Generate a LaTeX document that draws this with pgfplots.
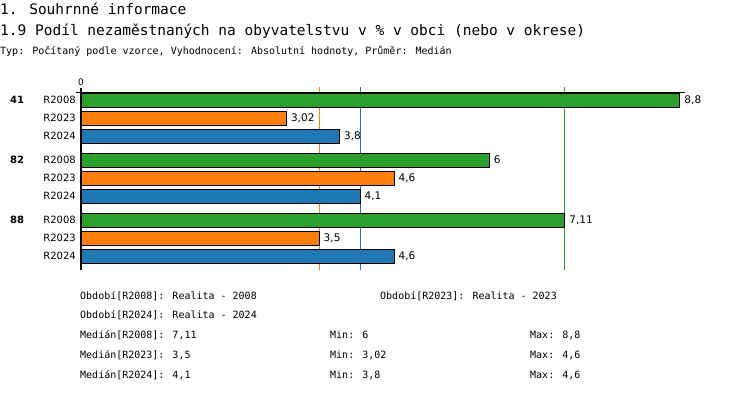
\documentclass[border=0pt]{standalone}
\usepackage{pgfplots}
\pgfplotsset{compat=1.18}
\usepackage{fontspec}
\setmainfont{DejaVu Sans}
\newfontfamily\mono{DejaVu Sans Mono}
\definecolor{cgreen}{HTML}{2CA02C}
\definecolor{corange}{HTML}{FF7F0E}
\definecolor{cblue}{HTML}{1F77B4}
\begin{document}
\begin{tikzpicture}[x=1pt,y=1pt]
\path[use as bounding box] (0,0) rectangle (750,-392);
\node[anchor=base west,inner sep=0pt,font=\mono\fontsize{14.5}{16}\selectfont] at (0,-14) {1. Souhrnné informace};
\node[anchor=base west,inner sep=0pt,font=\mono\fontsize{14.5}{16}\selectfont] at (0,-35) {1.9 Podíl nezaměstnaných na obyvatelstvu v \% v obci (nebo v okrese)};
\node[anchor=base west,inner sep=0pt,font=\mono\fontsize{10}{12}\selectfont] at (0,-54) {Typ: Počítaný podle vzorce, Vyhodnocení: Absolutní hodnoty, Průměr: Medián};
\begin{axis}[at={(81pt,-270pt)}, anchor=south west, scale only axis,
  width=612.6pt, height=183pt, xmin=0, xmax=9, ymin=-270, ymax=-87,
  axis line style={draw=none}, major tick length=0pt, clip=false,
  xtick=\empty,
  ytick={-100,-118,-136,-160,-178,-196,-220,-238,-256},
  yticklabels={R2008,R2023,R2024,R2008,R2023,R2024,R2008,R2023,R2024},
  yticklabel style={font=\fontsize{10}{12}\selectfont, inner sep=0pt, xshift=-5pt},
  /pgf/number format/assume math mode=true,
  /pgf/number format/use comma,
  point meta=x,
  every node near coord/.append style={font=\fontsize{10.5}{12}\selectfont, anchor=west, inner sep=0pt, xshift=4pt},
]
\addplot[corange, line width=1pt] coordinates {(3.5,-87) (3.5,-270)};
\addplot[cblue, line width=1pt] coordinates {(4.1,-87) (4.1,-270)};
\addplot[cgreen, line width=1pt] coordinates {(7.11,-87) (7.11,-270)};
\addplot[black, line width=0.8pt] coordinates {(-0.073,-92.5) (8.88,-92.5)};
\addplot[black, line width=2pt] coordinates {(0,-88) (0,-270)};
\addplot[xbar, bar shift=0pt, bar width=14, fill=cgreen, draw=black, line width=1pt, nodes near coords]
  coordinates {(8.8,-100) (6,-160) (7.11,-220)};
\addplot[xbar, bar shift=0pt, bar width=14, fill=corange, draw=black, line width=1pt, nodes near coords]
  coordinates {(3.02,-118) (4.6,-178) (3.5,-238)};
\addplot[xbar, bar shift=0pt, bar width=14, fill=cblue, draw=black, line width=1pt, nodes near coords]
  coordinates {(3.8,-136) (4.1,-196) (4.6,-256)};
\node[anchor=south, inner sep=0pt, font=\fontsize{9}{10}\selectfont] at (axis cs:0,-86) {0};
\end{axis}
\node[font=\bfseries\fontsize{10}{12}\selectfont] at (17,-100) {41};
\node[font=\bfseries\fontsize{10}{12}\selectfont] at (17,-160) {82};
\node[font=\bfseries\fontsize{10}{12}\selectfont] at (17,-220) {88};
\begin{scope}[every node/.style={anchor=base west, inner sep=0pt, font=\mono\fontsize{10}{12}\selectfont}]
\node at (80,-299) {Období[R2008]: Realita - 2008};
\node at (380,-299) {Období[R2023]: Realita - 2023};
\node at (80,-318) {Období[R2024]: Realita - 2024};
\node at (80,-338) {Medián[R2008]: 7,11};
\node at (330,-338) {Min: 6};
\node at (530,-338) {Max: 8,8};
\node at (80,-358) {Medián[R2023]: 3,5};
\node at (330,-358) {Min: 3,02};
\node at (530,-358) {Max: 4,6};
\node at (80,-378) {Medián[R2024]: 4,1};
\node at (330,-378) {Min: 3,8};
\node at (530,-378) {Max: 4,6};
\end{scope}
\end{tikzpicture}
\end{document}
